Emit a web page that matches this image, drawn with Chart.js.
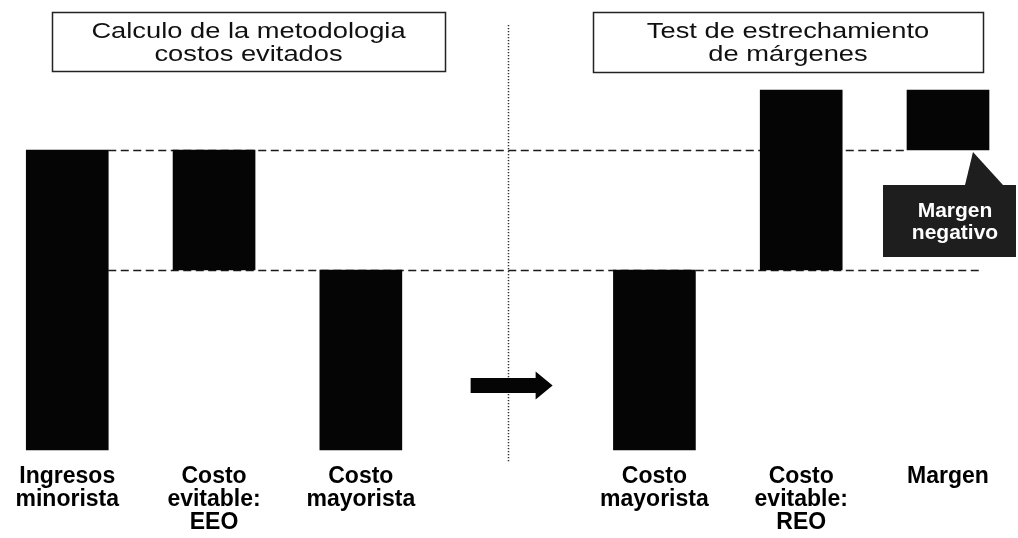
<!DOCTYPE html>
<html>
<head>
<meta charset="utf-8">
<script src="https://cdn.jsdelivr.net/npm/chart.js@4/dist/chart.umd.min.js"></script>
<style>
  html, body { margin: 0; padding: 0; background: #ffffff; }
  #wrap { width: 1018px; height: 538px; }
</style>
</head>
<body>
<div id="wrap"><canvas id="chart" width="1018" height="538"></canvas></div>
<script>
// Category labels (multi-line), the empty slot separates the two panels
const categories = [
  ['Ingresos', 'minorista'],
  ['Costo', 'evitable:', 'EEO'],
  ['Costo', 'mayorista'],
  '',
  ['Costo', 'mayorista'],
  ['Costo', 'evitable:', 'REO'],
  ['Margen']
];
// Floating bar ranges (start / end of each block)
const barStart = [0, 60, 0, null, 0, 60, 100];
const barEnd   = [100, 100, 60, null, 60, 120, 120];
// Reference levels: retail revenue and wholesale cost
const revenueLevel = 100;
const wholesaleLevel = 60;
// Panel headings
const leftTitle = ['Calculo de la metodologia', 'costos evitados'];
const rightTitle = ['Test de estrechamiento', 'de márgenes'];
const calloutText = ['Margen', 'negativo'];

const BAR_W = 82;
const GAP_INDEX = 3;
const MARGIN_INDEX = 6;

const overlay = {
  id: 'overlay',
  beforeDatasetsDraw(chart) {
    const { ctx, scales: { x, y } } = chart;
    const half = BAR_W / 2;
    ctx.save();
    ctx.strokeStyle = '#1a1a1a';
    ctx.lineWidth = 1.3;
    ctx.setLineDash([8, 4.5]);
    // revenue level
    let yy = Math.round(y.getPixelForValue(revenueLevel)) + 0.5;
    ctx.beginPath();
    ctx.moveTo(x.getPixelForValue(0) + half, yy);
    ctx.lineTo(x.getPixelForValue(MARGIN_INDEX) - half, yy);
    ctx.stroke();
    // wholesale cost level
    yy = Math.round(y.getPixelForValue(wholesaleLevel)) + 0.5;
    ctx.beginPath();
    ctx.moveTo(x.getPixelForValue(0) + half, yy);
    ctx.lineTo(x.getPixelForValue(MARGIN_INDEX) + 34, yy);
    ctx.stroke();
    // dotted panel divider
    const xd = Math.round(x.getPixelForValue(GAP_INDEX)) + 0.5;
    ctx.setLineDash([1.2, 1.8]);
    ctx.lineWidth = 1.5;
    ctx.strokeStyle = '#333';
    ctx.beginPath();
    ctx.moveTo(xd, 25);
    ctx.lineTo(xd, 463);
    ctx.stroke();
    ctx.restore();
  },
  afterDatasetsDraw(chart) {
    const { ctx, scales: { x, y } } = chart;
    ctx.save();

    // transition arrow between panels
    const xc = x.getPixelForValue(GAP_INDEX);
    const yc = y.getPixelForValue(21.5);
    ctx.fillStyle = '#050505';
    ctx.beginPath();
    ctx.moveTo(xc - 37, yc - 7.5);
    ctx.lineTo(xc + 28, yc - 7.5);
    ctx.lineTo(xc + 28, yc - 14);
    ctx.lineTo(xc + 45, yc);
    ctx.lineTo(xc + 28, yc + 14);
    ctx.lineTo(xc + 28, yc + 7.5);
    ctx.lineTo(xc - 37, yc + 7.5);
    ctx.closePath();
    ctx.fill();

    // panel headings in framed boxes
    const drawHeading = (lines, bx, by, bw, bh) => {
      ctx.lineWidth = 1.5;
      ctx.strokeStyle = '#222';
      ctx.strokeRect(bx + 0.5, by + 0.5, bw, bh);
      ctx.fillStyle = '#111';
      ctx.font = '21.5px "Liberation Sans", Arial, sans-serif';
      ctx.textAlign = 'center';
      ctx.textBaseline = 'alphabetic';
      const cx = bx + bw / 2;
      lines.forEach((t, i) => {
        ctx.save();
        ctx.translate(cx, by + 26 + i * 22.5);
        ctx.scale(1.27, 1);
        ctx.fillText(t, 0, 0);
        ctx.restore();
      });
    };
    drawHeading(leftTitle, 52, 12, 393, 59);
    drawHeading(rightTitle, 593, 12, 390, 60);

    // negative margin callout
    const xm = x.getPixelForValue(MARGIN_INDEX);
    const yb = y.getPixelForValue(revenueLevel);
    ctx.fillStyle = '#1e1e1e';
    ctx.beginPath();
    ctx.moveTo(xm + 25, yb + 2);
    ctx.lineTo(xm + 55, yb + 35);
    ctx.lineTo(xm + 17, yb + 35);
    ctx.closePath();
    ctx.fill();
    ctx.fillRect(xm - 65, yb + 35, 133, 72);
    ctx.fillStyle = '#ffffff';
    ctx.font = 'bold 21px "Liberation Sans", Arial, sans-serif';
    ctx.textAlign = 'center';
    calloutText.forEach((t, i) => {
      ctx.fillText(t, xm + 7, yb + 67 + i * 22);
    });

    ctx.restore();
  }
};

new Chart(document.getElementById('chart'), {
  type: 'bar',
  data: {
    labels: categories,
    datasets: [{
      data: barStart.map((s, i) => (s === null ? null : [s, barEnd[i]])),
      backgroundColor: '#050505',
      borderWidth: 0,
      barThickness: BAR_W,
      borderSkipped: false,
      clip: false
    }]
  },
  options: {
    responsive: false,
    animation: false,
    events: [],
    layout: { padding: { left: 66, right: 70, top: 0, bottom: 3.5 } },
    plugins: {
      legend: { display: false },
      tooltip: { enabled: false },
      title: { display: false }
    },
    scales: {
      x: {
        offset: false,
        afterFit(scale) { scale.height = 84.5; },
        grid: { display: false, drawTicks: false, tickLength: 0 },
        border: { display: false },
        ticks: {
          autoSkip: false,
          maxRotation: 0,
          padding: 15.5,
          color: '#000',
          font: { family: '"Liberation Sans", Arial, sans-serif', size: 23, weight: 'bold', lineHeight: 1.0 }
        }
      },
      y: {
        display: false,
        min: 0,
        max: 150
      }
    }
  },
  plugins: [overlay]
});
</script>
</body>
</html>
